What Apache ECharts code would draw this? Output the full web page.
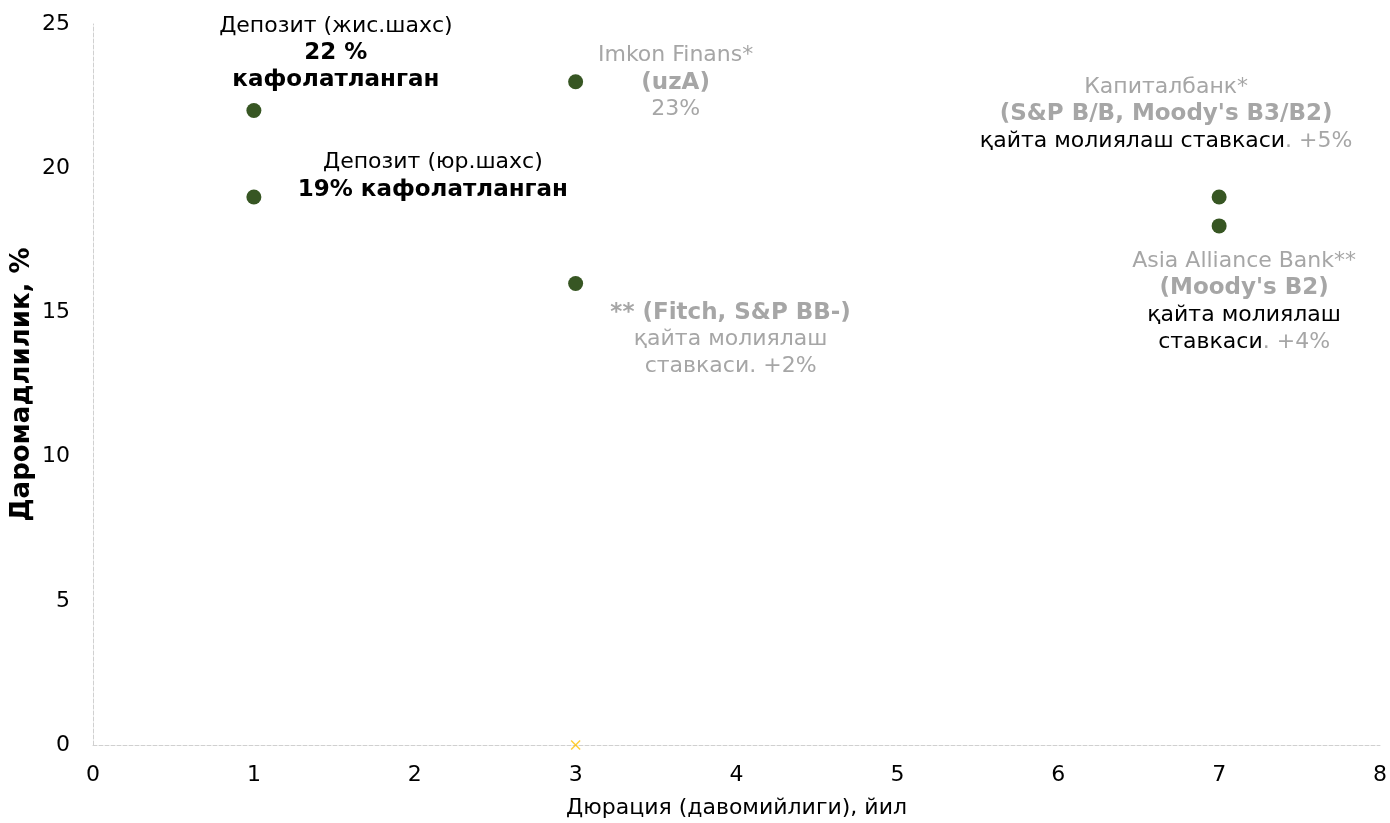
<!DOCTYPE html>
<html><head><meta charset="utf-8">
<script src="https://cdn.jsdelivr.net/npm/echarts@6/dist/echarts.min.js"></script>
<style>html,body{margin:0;padding:0;background:#fff}#c{width:1390px;height:823px}</style>
</head><body><div id="c"></div>
<script>
const durations = [1, 1, 3, 3, 7, 7];
const yields = [22, 19, 23, 16, 19, 18];
const markerX = [3];
const markerY = [0];
const xTicks = [0, 1, 2, 3, 4, 5, 6, 7, 8];
const yTicks = [0, 5, 10, 15, 20, 25];
const pointLabels = [
  '{bn|Депозит (жис.шахс)}\n{bb|22 %}\n{bb|кафолатланган}',
  '{bn|Депозит (юр.шахс)}\n{bb|19% кафолатланган}',
  '{gn|Imkon Finans*}\n{gb|(uzA)}\n{gn|23%}',
  '{gb|** (Fitch, S&P BB-)}\n{gn|қайта молиялаш}\n{gn|ставкаси. +2%}',
  '{gn|Капиталбанк*}\n{gb|(S&P B/B, Moody\'s B3/B2)}\n{bn|қайта молиялаш ставкаси}{gn|. +5%}',
  '{gn|Asia Alliance Bank**}\n{gb|(Moody\'s B2)}\n{bn|қайта молиялаш}\n{bn|ставкаси}{gn|. +4%}'
];
const labelOffsets = [[82, -57], [179, -21], [100, 1], [155, 56], [-53, -83], [25, 76]];

const FONT = 'DejaVu Sans';
const rich = {
  bn: {color: '#000', fontSize: 22, fontFamily: FONT, lineHeight: 27},
  bb: {color: '#000', fontSize: 23, fontWeight: 'bold', fontFamily: FONT, lineHeight: 27},
  gn: {color: '#a6a6a6', fontSize: 22, fontFamily: FONT, lineHeight: 27},
  gb: {color: '#a6a6a6', fontSize: 23, fontWeight: 'bold', fontFamily: FONT, lineHeight: 27}
};

const mainData = durations.map((x, i) => ({
  value: [x, yields[i]],
  label: {
    show: true, position: 'inside', offset: labelOffsets[i],
    formatter: pointLabels[i], rich: rich, align: 'center'
  }
}));

const chart = echarts.init(document.getElementById('c'));
chart.setOption({
  animation: false,
  grid: {left: 93, right: 10, top: 24, bottom: 78, containLabel: false, outerBoundsMode: 'none'},
  xAxis: {
    type: 'value', min: xTicks[0], max: xTicks[xTicks.length - 1], interval: 1,
    name: 'Дюрация (давомийлиги), йил', nameLocation: 'middle', nameGap: 52,
    nameMoveOverlap: false,
    nameTextStyle: {color: '#000', fontSize: 22, fontFamily: FONT},
    axisLine: {show: true, onZero: false, lineStyle: {color: '#d0d0d0', type: 'dashed', width: 1}},
    axisTick: {show: false},
    splitLine: {show: false},
    axisLabel: {color: '#000', fontSize: 22, fontFamily: FONT, margin: 19}
  },
  yAxis: {
    type: 'value', min: yTicks[0], max: yTicks[yTicks.length - 1], interval: 5,
    name: 'Даромадлилик, %', nameLocation: 'middle', nameGap: 58,
    nameMoveOverlap: false,
    nameTextStyle: {color: '#000', fontSize: 26, fontWeight: 'bold', fontFamily: FONT},
    axisLine: {show: true, onZero: false, lineStyle: {color: '#d0d0d0', type: 'dashed', width: 1}},
    axisTick: {show: false},
    splitLine: {show: false},
    axisLabel: {color: '#000', fontSize: 22, fontFamily: FONT, margin: 23}
  },
  series: [
    {
      type: 'scatter', symbol: 'circle', symbolSize: 15,
      itemStyle: {color: '#375623', opacity: 1},
      data: mainData, z: 3
    },
    {
      type: 'scatter',
      symbol: 'path://M0,1L1,0L5,4L9,0L10,1L6,5L10,9L9,10L5,6L1,10L0,9L4,5Z',
      symbolSize: 10,
      itemStyle: {color: '#ffc000'},
      data: markerX.map((x, i) => [x, markerY[i]]), z: 4
    }
  ]
});
</script></body></html>
